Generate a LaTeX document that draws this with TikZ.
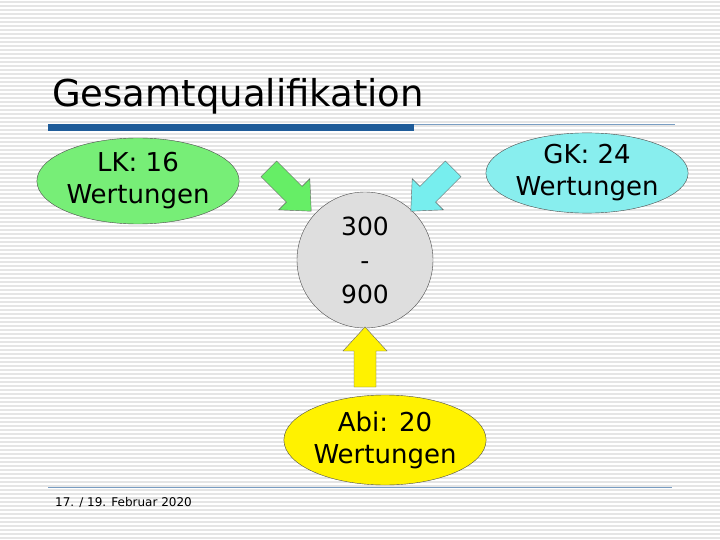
\documentclass[tikz,border=0pt]{standalone}
\usepackage{fontspec}
\setmainfont{DejaVu Sans}
\usetikzlibrary{shapes.geometric}
\definecolor{lkgreen}{HTML}{77EE77}
\definecolor{gkcyan}{HTML}{88EEEE}
\definecolor{barblue}{HTML}{1F5C99}
\definecolor{arrgreen}{HTML}{66EE66}
\definecolor{arrcyan}{HTML}{77EEEE}
\tikzset{
  blob/.style={draw=black!70,ellipse,align=center,font=\fontsize{26}{32}\selectfont,inner sep=0pt},
}
% block arrow: centre, rotation, colour (pointing right before rotation)
\newcommand\blockarr[3]{%
  \filldraw[fill=#3,draw=black!60,shift={#1},rotate=#2]
    (-30,-11) -- (6,-11) -- (6,-22) -- (30,0) -- (6,22) -- (6,11) -- (-30,11) -- cycle;}
\begin{document}
\begin{tikzpicture}[x=1pt,y=-1pt]
  \useasboundingbox (0,0) rectangle (720,540);
  % background stripes
  \fill[white] (0,0) rectangle (720,540);
  \foreach \y in {2,6,...,538} \draw[black!10,line width=1.2pt] (0,\y) -- (720,\y);
  % title and rules
  \node[anchor=base west,font=\fontsize{37}{42}\selectfont,inner sep=0pt] (title) at (52,107) {Gesamtqualifikation};
  \fill[barblue] (48,124) rectangle (414,131);
  \draw[barblue!60,line width=0.8pt] (414,124) -- (675,124);
  \draw[barblue!60,line width=0.8pt] (48,487) -- (672,487);
  \node[anchor=west,font=\fontsize{12}{14}\selectfont,inner sep=0pt] (date) at (55,502) {17. / 19. Februar 2020};
  % nodes
  \node[blob,fill=lkgreen,minimum width=170pt,minimum height=86pt] (lk) at (138,181) {LK: 16\\Wertungen};
  \node[blob,fill=gkcyan,minimum width=164pt,minimum height=80pt] (gk) at (587,173) {GK: 24\\Wertungen};
  \node[blob,circle,fill=black!13,minimum size=136pt,font=\fontsize{25}{34}\selectfont] (sum) at (365,260) {300\\-\\900};
  \node[blob,fill=yellow,minimum width=200pt,minimum height=90pt] (abi) at (385,440) {Abi: 20\\Wertungen};
  % arrows
  \blockarr{(290,190)}{-45}{arrgreen}
  \blockarr{(432,190)}{-135}{arrcyan}
  \blockarr{(365,357)}{90}{yellow}
\end{tikzpicture}
\end{document}
